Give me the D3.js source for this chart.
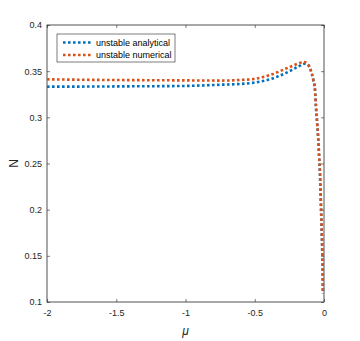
<!DOCTYPE html>
<html>
<head>
<meta charset="utf-8">
<script src="https://cdn.jsdelivr.net/npm/d3@7"></script>
<style>
  body { margin: 0; background: #fff; }
  svg { display: block; font-family: "Liberation Sans", Arial, sans-serif; }
</style>
</head>
<body>
<svg id="chart" width="360" height="341"></svg>
<script>
(function () {
    'use strict';

    // mu samples (denser near the drop at 0)
    const muValues = [-2, -1.75, -1.5, -1.25, -1, -0.75, -0.6, -0.51, -0.45, -0.39, -0.33, -0.27, -0.23,
        -0.197, -0.17, -0.154, -0.144, -0.13, -0.113, -0.096, -0.077, -0.065, -0.058, -0.05,
        -0.041, -0.035, -0.029, -0.025, -0.0217, -0.018, -0.0144, -0.012, -0.0096, -0.008];

    const analyticalN = [0.3332, 0.3333, 0.3335, 0.3337, 0.3340, 0.3353, 0.3362, 0.3375, 0.3390, 0.3412,
        0.3445, 0.3484, 0.3515, 0.3542, 0.3563, 0.3577, 0.3580, 0.3578, 0.3565, 0.3512, 0.3404,
        0.3296, 0.3115, 0.2950, 0.2754, 0.2570, 0.2393, 0.2210, 0.2030, 0.1850, 0.1670, 0.1490,
        0.1310, 0.1093];

    const numericalN = [0.3412, 0.3407, 0.3404, 0.3402, 0.3400, 0.3398, 0.3405, 0.3415, 0.3432, 0.3458,
        0.3492, 0.3531, 0.3556, 0.3577, 0.3592, 0.3598, 0.3600, 0.3592, 0.3567, 0.3512, 0.3404,
        0.3296, 0.3115, 0.2950, 0.2754, 0.2570, 0.2393, 0.2210, 0.2030, 0.1850, 0.1670, 0.1490,
        0.1310, 0.1093];

    const xTicks = [-2, -1.5, -1, -0.5, 0];
    const yTicks = [0.1, 0.15, 0.2, 0.25, 0.3, 0.35, 0.4];

    const seriesNames = ['unstable analytical', 'unstable numerical'];
    const seriesColors = ['#0072BD', '#D95319'];

    const width = 360, height = 341;
    const margin = {top: 25, right: 36, bottom: 39, left: 47};
    const innerW = width - margin.left - margin.right;
    const innerH = height - margin.top - margin.bottom;

    const svg = d3.select('#chart');
    const g = svg.append('g')
            .attr('transform', `translate(${margin.left},${margin.top})`);

    const x = d3.scaleLinear().domain([-2, 0]).range([0, innerW]);
    const y = d3.scaleLinear().domain([0.1, 0.4]).range([innerH, 0]);

    const axisColor = '#262626';
    const tickLen = 3;
    const fmt = d => String(d);

    const styleAxis = sel => {
        sel.select('.domain').remove();
        sel.selectAll('line').attr('stroke', axisColor).attr('stroke-width', 0.6);
        sel.selectAll('text').attr('fill', axisColor).style('font-size', '9px');
    };

    g.append('g')
        .attr('transform', `translate(0,${innerH})`)
        .call(d3.axisBottom(x).tickValues(xTicks).tickSize(-tickLen).tickPadding(8).tickFormat(fmt))
        .call(styleAxis);
    g.append('g')
        .call(d3.axisTop(x).tickValues(xTicks).tickSize(-tickLen).tickFormat(''))
        .call(styleAxis);
    g.append('g')
        .call(d3.axisLeft(y).tickValues(yTicks).tickSize(-tickLen).tickPadding(5).tickFormat(fmt))
        .call(styleAxis);
    g.append('g')
        .attr('transform', `translate(${innerW},0)`)
        .call(d3.axisRight(y).tickValues(yTicks).tickSize(-tickLen).tickFormat(''))
        .call(styleAxis);

    g.append('rect')
        .attr('width', innerW)
        .attr('height', innerH)
        .attr('fill', 'none')
        .attr('stroke', axisColor)
        .attr('stroke-width', 0.8);

    const line = d3.line()
            .x(d => x(d[0]))
            .y(d => y(d[1]))
            .curve(d3.curveMonotoneX);

    [analyticalN, numericalN].forEach((vals, i) => {
        g.append('path')
            .datum(muValues.map((m, j) => [m, vals[j]]))
            .attr('fill', 'none')
            .attr('stroke', seriesColors[i])
            .attr('stroke-width', 2.6)
            .attr('stroke-dasharray', '2.6,2.4')
            .attr('d', line);
    });

    // legend
    const legend = g.append('g').attr('transform', 'translate(10,9)');
    legend.append('rect')
        .attr('width', 118)
        .attr('height', 28)
        .attr('fill', '#fff')
        .attr('stroke', axisColor)
        .attr('stroke-width', 0.6);
    seriesNames.forEach((name, i) => {
        const row = legend.append('g').attr('transform', `translate(0,${8.5 + i * 12.5})`);
        row.append('line')
            .attr('x1', 6).attr('x2', 35)
            .attr('stroke', seriesColors[i])
            .attr('stroke-width', 2.6)
            .attr('stroke-dasharray', '2.6,2.4');
        row.append('text')
            .attr('x', 39)
            .attr('dy', '0.35em')
            .attr('fill', '#000')
            .style('font-size', '9px')
            .text(name);
    });

    // axis labels
    svg.append('text')
        .attr('transform', `translate(14,${margin.top + innerH / 2}) rotate(-90)`)
        .attr('text-anchor', 'middle')
        .attr('dy', '0.35em')
        .attr('fill', axisColor)
        .style('font-size', '12px')
        .text('N');
    svg.append('text')
        .attr('x', margin.left + innerW / 2)
        .attr('y', 335)
        .attr('text-anchor', 'middle')
        .attr('fill', axisColor)
        .style('font-size', '12px')
        .style('font-style', 'italic')
        .text('μ');
}());
</script>
</body>
</html>
